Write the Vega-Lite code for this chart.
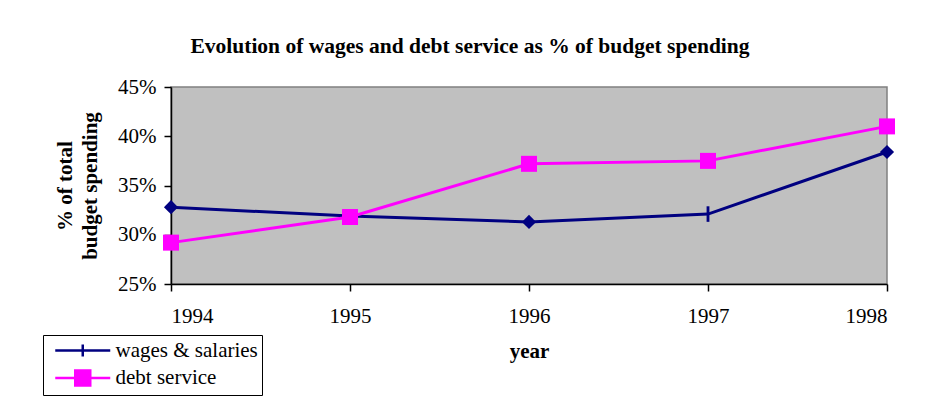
{
  "$schema": "https://vega.github.io/schema/vega-lite/v6.json",
  "width": 716,
  "height": 197,
  "autosize": "none",
  "padding": {"left": 171, "top": 87, "right": 51, "bottom": 112},
  "background": "white",
  "title": {
    "text": "Evolution of wages and debt service as % of budget spending",
    "font": "Liberation Serif",
    "fontSize": 21.5,
    "fontWeight": "bold",
    "color": "black",
    "anchor": "middle",
    "baseline": "bottom",
    "offset": -3,
    "dx": -59
  },
  "data": {
    "values": [
      {"year": 1994, "series": "wages & salaries", "value": 0.328},
      {"year": 1995, "series": "wages & salaries", "value": 0.319},
      {"year": 1996, "series": "wages & salaries", "value": 0.313},
      {"year": 1997, "series": "wages & salaries", "value": 0.321},
      {"year": 1998, "series": "wages & salaries", "value": 0.384},
      {"year": 1994, "series": "debt service", "value": 0.292},
      {"year": 1995, "series": "debt service", "value": 0.318},
      {"year": 1996, "series": "debt service", "value": 0.372},
      {"year": 1997, "series": "debt service", "value": 0.375},
      {"year": 1998, "series": "debt service", "value": 0.410}
    ]
  },
  "encoding": {
    "x": {
      "field": "year", "type": "quantitative",
      "scale": {"domain": [1994, 1998], "nice": false, "zero": false},
      "axis": {"values": [1994, 1995, 1996, 1997, 1998], "format": "d", "title": "year", "tickSize": 7, "labelPadding": 14, "titlePadding": 14, "labelFont": "Liberation Serif", "titleFont": "Liberation Serif"}
    },
    "y": {
      "field": "value", "type": "quantitative",
      "scale": {"domain": [0.25, 0.45], "nice": false, "zero": false},
      "axis": {"values": [0.25, 0.3, 0.35, 0.4, 0.45], "format": ".0%", "title": ["% of total", "budget spending"], "tickSize": 7, "labelPadding": 8, "titlePadding": 17, "titleLineHeight": 25, "labelFont": "Liberation Serif", "titleFont": "Liberation Serif"}
    }
  },
  "layer": [
    {
      "mark": {"type": "line", "strokeWidth": 3},
      "encoding": {
        "color": {
          "field": "series", "type": "nominal",
          "scale": {"domain": ["wages & salaries", "debt service"], "range": ["#000080", "#FF00FF"]},
          "legend": {
            "title": null,
            "orient": "none",
            "legendX": -128,
            "legendY": 248,
            "padding": 4,
            "strokeColor": "black",
            "fillColor": "white",
            "labelFont": "Liberation Serif",
            "labelFontSize": 21,
            "labelColor": "black",
            "labelOffset": 21.25,
            "symbolOffset": 24.25,
            "symbolSize": 400,
            "symbolStrokeWidth": 2.5,
            "rowPadding": 3.5,
            "encode": {
              "symbols": {
                "update": {
                  "shape": {"signal": "datum.value === 'wages & salaries' ? 'M-2.75,0L2.75,0M0,-0.6L0,0.6' : 'M-2.75,0L2.75,0M-0.75,-0.75H0.75V0.75H-0.75Z'"},
                  "fill": {"signal": "datum.value === 'debt service' ? '#FF00FF' : 'transparent'"}
                }
              }
            }
          }
        },
        "order": {"field": "year"}
      }
    },
    {
      "transform": [{"filter": "datum.series === 'wages & salaries'"}],
      "mark": {"type": "point", "filled": true, "opacity": 1, "color": "#000080", "size": 200},
      "encoding": {
        "shape": {"condition": {"test": "datum.year === 1997", "value": "M-0.2,-1.1H0.2V1.1H-0.2Z"}, "value": "diamond"}
      }
    },
    {
      "transform": [{"filter": "datum.series === 'debt service'"}],
      "mark": {"type": "point", "filled": true, "opacity": 1, "color": "#FF00FF", "shape": "square", "size": 256}
    }
  ],
  "config": {
    "font": "Liberation Serif",
    "view": {"fill": "#C0C0C0", "stroke": "#808080", "strokeWidth": 1.5},
    "legend": {"labelFont": "Liberation Serif"},
    "axis": {
      "grid": false,
      "domainColor": "black",
      "domainWidth": 1.5,
      "tickColor": "black",
      "tickWidth": 1.5,
      "labelFont": "Liberation Serif",
      "labelFontSize": 21,
      "labelColor": "black",
      "titleFont": "Liberation Serif",
      "titleFontSize": 21,
      "titleFontWeight": "bold",
      "titleColor": "black"
    }
  }
}
